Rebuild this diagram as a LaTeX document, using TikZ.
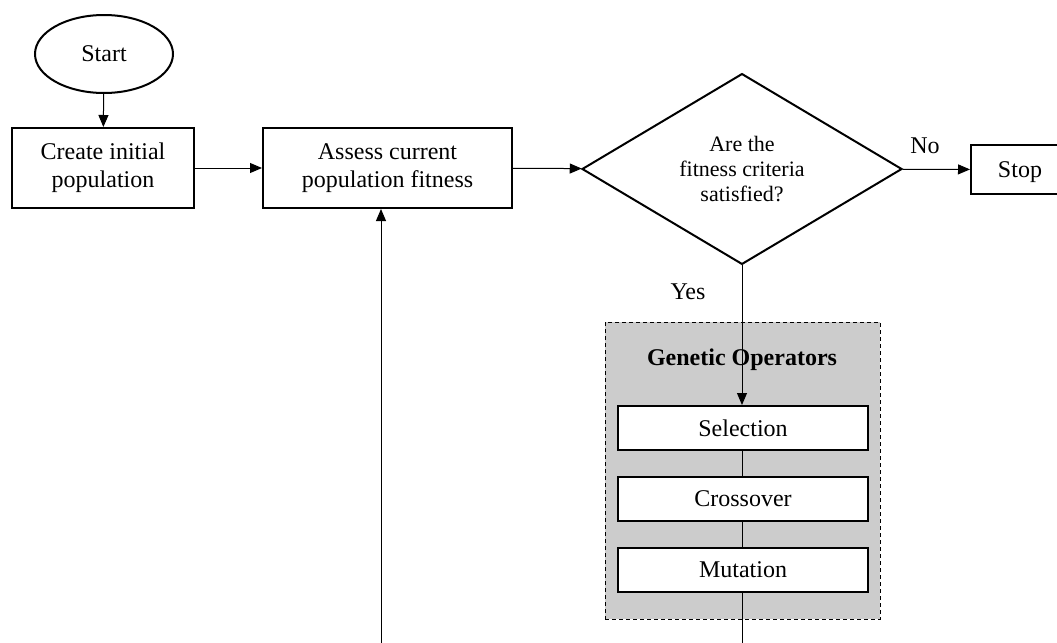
\documentclass[tikz,border=0pt]{standalone}
\usepackage{fontspec}
\setmainfont{Liberation Serif}
\usetikzlibrary{shapes.geometric,arrows.meta}

\begin{document}
\begin{tikzpicture}[x=0.5pt,y=-0.5pt,font=\fontsize{12}{14}\selectfont,
  block/.style={draw=black,line width=1pt,fill=white,inner sep=0pt,align=center},
  opbox/.style={block,minimum width=125pt,minimum height=22pt},
  link/.style={line width=0.5pt},
  arrow/.style={link,-{Triangle[length=6pt,width=5pt]}}]
\clip (0,0) rectangle (1057,643);

\node[ellipse,draw=black,line width=1pt,minimum width=69pt,minimum height=39pt,text depth=0pt] (start) at (104,54) {Start};
\node[block,minimum width=91pt,minimum height=40pt] (create) at (103,168) {Create initial\\population};
\node[block,minimum width=124.5pt,minimum height=40pt] (assess) at (387.5,168) {Assess current\\population fitness};
\node[diamond,draw=black,line width=1pt,fill=white,inner sep=0pt,align=center,minimum width=160pt,minimum height=95pt,font=\fontsize{11}{12.5}\selectfont] (check) at (742,169) {Are the\\fitness criteria\\satisfied?};
\node[block,minimum width=49pt,minimum height=24.5pt,text depth=0pt] (stop) at (1020,169.5) {Stop};
\node (no) at (925,146) {No};
\node (yes) at (688,292) {Yes};

\node[draw=black,dash pattern=on 2pt off 1.5pt,line width=0.5pt,fill=gray!40,minimum width=137.5pt,minimum height=148.5pt,inner sep=0pt] (ops) at (742.5,470.5) {};
\node[font=\bfseries\fontsize{12}{14}\selectfont] (opstitle) at (742,360) {Genetic Operators};
\node[opbox] (select) at (743,428) {Selection};
\node[opbox] (cross) at (743,498.5) {Crossover};
\node[opbox] (mutate) at (743,570) {Mutation};

\coordinate (loopend) at (742,643);
\coordinate (loopstart) at (381,643);

\draw[arrow] (start) -- (create);
\draw[arrow] (create) -- (assess);
\draw[arrow] (assess) -- (check);
\draw[arrow] (check) -- (stop);
\draw[arrow] (check.south) -- (check.south |- select.north);
\draw[link] (select.south -| loopend) -- (cross.north -| loopend);
\draw[link] (cross.south -| loopend) -- (mutate.north -| loopend);
\draw[link] (mutate.south -| loopend) -- (loopend);
\draw[arrow] (loopstart) -- (loopstart |- assess.south);
\end{tikzpicture}
\end{document}
